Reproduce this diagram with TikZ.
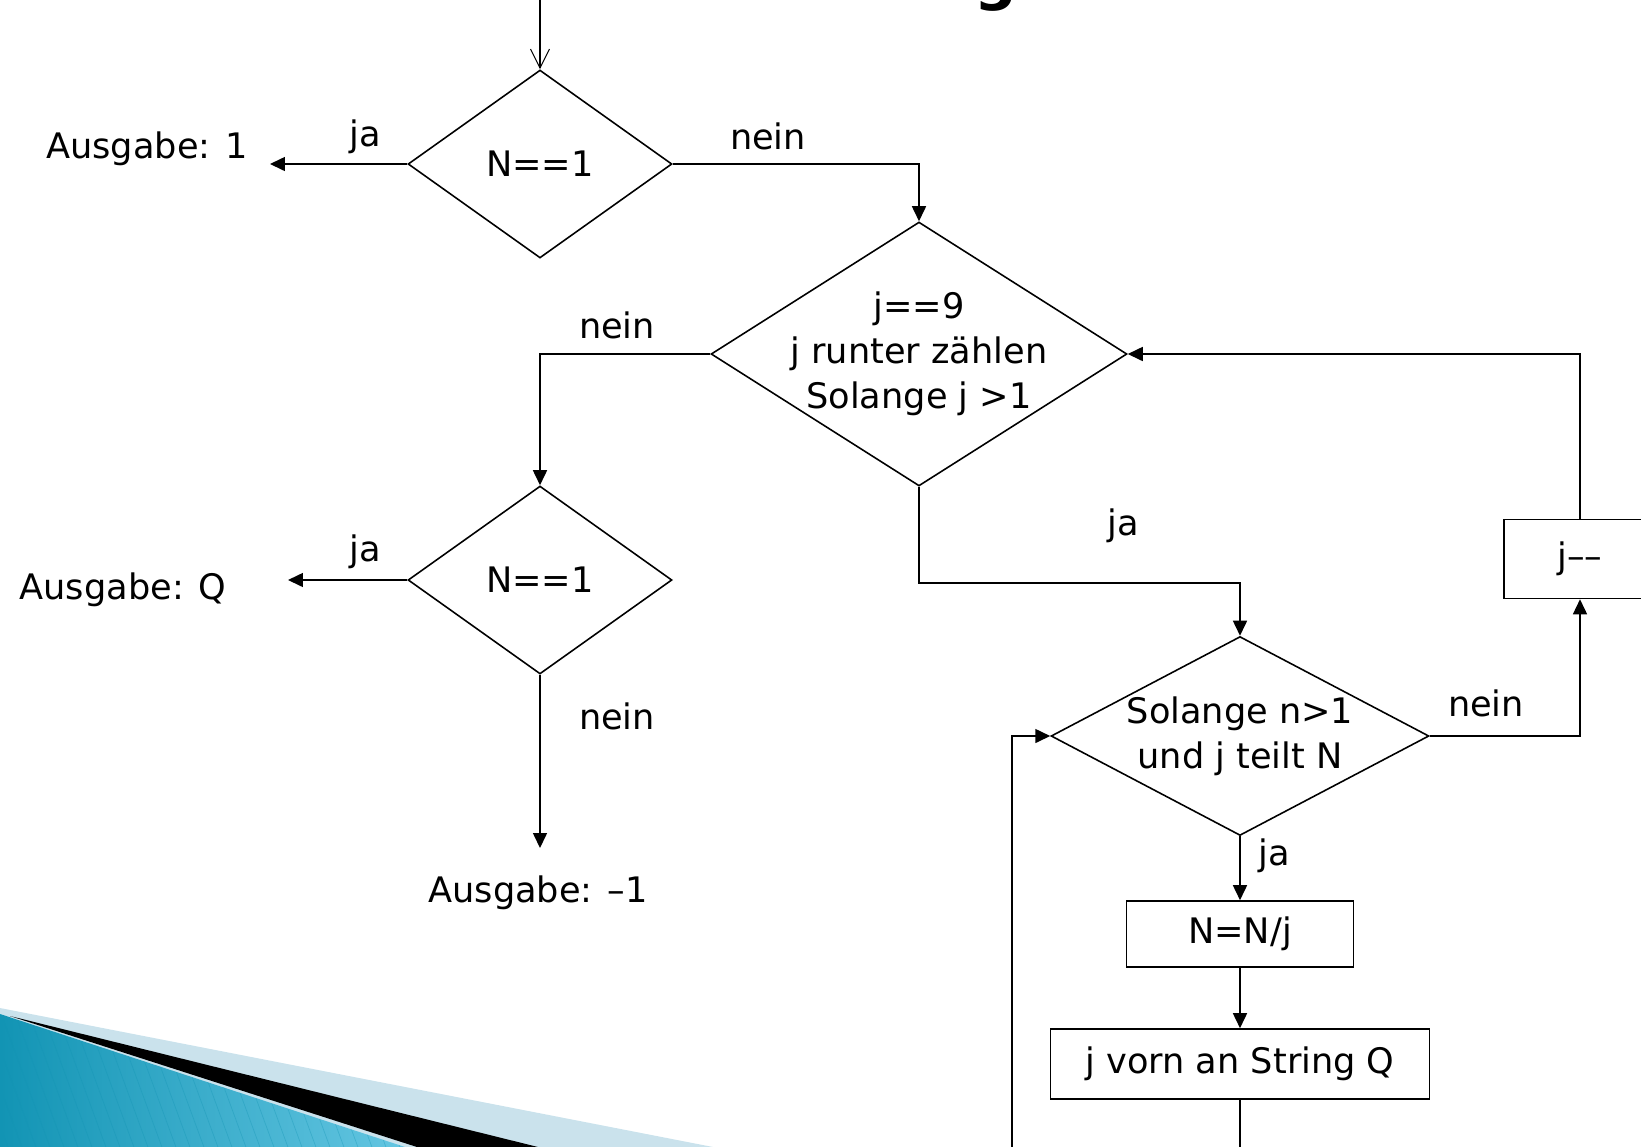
\documentclass[tikz,border=0pt]{standalone}
\usepackage{fontspec}
\setmainfont{DejaVu Sans}
\usetikzlibrary{shapes.geometric,arrows.meta}

\definecolor{swooshpale}{RGB}{202,226,236}
\definecolor{swooshdark}{RGB}{18,148,180}
\definecolor{swooshlight}{RGB}{100,198,226}

\begin{document}
\begin{tikzpicture}[x=0.02cm, y=-0.02cm, line width=0.9pt,
    font=\fontsize{20}{25.5}\selectfont,
    decision/.style={draw, diamond, inner sep=0pt},
    action/.style={draw, rectangle, inner sep=0pt},
    flow/.style={-{Triangle[length=0.3cm, width=0.28cm]}}]
    \useasboundingbox (0,0) rectangle (1641,1147);

    % Corner swoosh of the slide
    \fill[swooshpale] (0,1008) -- (713,1147) -- (0,1147) -- cycle;
    \shade[left color=swooshdark, right color=swooshlight] (0,1014) -- (405,1147) -- (0,1147) -- cycle;
    \begin{scope}
        \clip (0,1014) -- (405,1147) -- (0,1147) -- cycle;
        \foreach \x in {-60,-46,...,420}
            \draw[swooshdark, line width=0.4pt, opacity=0.35] (\x,1000) -- ++(55,150);
    \end{scope}
    \fill[black] (10,1016) -- (538,1147) -- (417,1147) -- cycle;

    % Bottom of the title
    \node[font=\fontsize{34}{34}\selectfont\bfseries, anchor=south, inner sep=0pt] (titleg) at (996,12) {g};

    % Decisions
    \node[decision, minimum width=5.28cm, minimum height=3.76cm] (d1) at (540,164) {N==1};
    \node[decision, minimum width=8.32cm, minimum height=5.28cm,
          label={[align=center]center:j==9\\j runter zählen\\Solange j >1}] (d2) at (919,354) {};
    \node[decision, minimum width=5.28cm, minimum height=3.76cm] (d3) at (540,580) {N==1};
    \node[decision, minimum width=7.56cm, minimum height=3.98cm,
          label={[align=center]center:Solange n>1\hspace{0.3cm}\\und j teilt N}] (d4) at (1240,736) {};

    % Actions
    \node[action, minimum width=4.54cm, minimum height=1.32cm] (ndiv) at (1240,934) {N=N/j};
    \node[action, minimum width=7.58cm, minimum height=1.40cm] (jq) at (1240,1064) {j vorn an String Q};
    \node[action, minimum width=3.04cm, minimum height=1.58cm] (jdec) at (1580,559) {j\textendash\textendash};

    % Outputs
    \node (out1) at (147,149) {Ausgabe: 1};
    \node (outq) at (123,590) {Ausgabe: Q};
    \node (outm1) at (538,893) {Ausgabe: \textendash1};

    % Branch labels
    \node (ja1) at (365,137) {ja};
    \node (nein1) at (768,136) {nein};
    \node (nein2) at (617,325) {nein};
    \node (ja2) at (365,552) {ja};
    \node (nein3) at (617,716) {nein};
    \node (ja3) at (1123,526) {ja};
    \node (nein4) at (1486,703) {nein};
    \node (ja4) at (1274,856) {ja};

    % Free ends
    \coordinate (start) at (540,0);
    \coordinate (out1in) at (270,164);
    \coordinate (outqin) at (288,580);
    \coordinate (outm1in) at (540,848);
    \coordinate (split) at (919,583);
    \coordinate (loopa) at (1240,1180);
    \coordinate (loopb) at (1012,1180);

    % Connections
    \draw[-{Straight Barb[length=0.38cm, width=0.38cm]}, line width=0.6pt] (start) -- (d1.north);
    \draw[flow] (d1.west) -- (out1in);
    \draw[flow] (d1.east) -| (d2.north);
    \draw[flow] (d2.west) -| (d3.north);
    \draw[flow] (d3.west) -- (outqin);
    \draw[flow] (d3.south) -- (outm1in);
    \draw[flow] (d2.south) -- (split) -| (d4.north);
    \draw[flow] (d4.south) -- (ndiv);
    \draw[flow] (ndiv) -- (jq);
    \draw[flow] (d4.east) -| (jdec.south);
    \draw[flow] (jdec.north) |- (d2.east);
    \draw[flow] (jq.south) -- (loopa) -- (loopb) |- (d4.west);

\end{tikzpicture}
\end{document}
